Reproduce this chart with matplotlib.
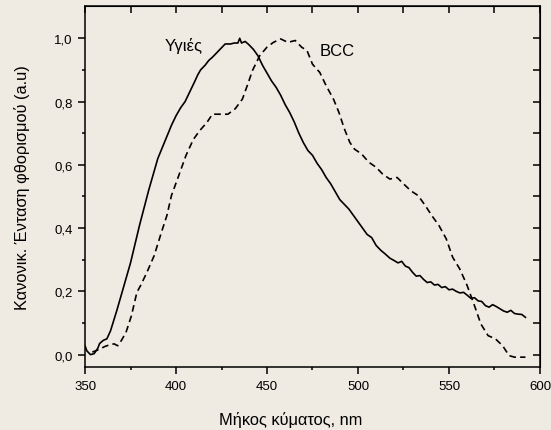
import numpy as np
import matplotlib.pyplot as plt

plt.rcParams['font.family'] = ['Liberation Sans', 'DejaVu Sans']

# healthy tissue (solid)
healthy_nm = [350, 351, 353, 355, 357, 358, 360, 362, 364, 367.5,
              370, 372.5, 375, 377.5, 380, 382.5, 385, 387.5, 390, 392.5,
              395, 397.5, 400, 402.5, 405, 407.5, 410, 412, 413.5, 416,
              418, 420, 422.5, 425, 427, 430, 432, 434, 435, 436,
              438, 440, 442.5, 445, 447.5, 450, 452.5, 455, 457.5, 460,
              462.5, 465, 467.5, 470, 472.5, 475, 477.5, 480, 482.5, 485,
              487.5, 490, 492.5, 495, 497.5, 500, 502.5, 505, 507.5, 510,
              512.5, 515, 517.5, 520, 522, 524, 526, 528, 530, 532,
              534, 536, 538, 540, 542, 544, 546, 548, 550, 552,
              554, 556, 558, 560, 562, 564, 566, 568, 570, 572,
              574, 576, 578, 580, 582, 584, 586, 588, 590, 592]
healthy = [0.028, 0.012, 0.0, 0.003, 0.02, 0.035, 0.045, 0.05, 0.075, 0.14,
           0.19, 0.24, 0.29, 0.35, 0.41, 0.465, 0.52, 0.57, 0.62, 0.655,
           0.69, 0.725, 0.755, 0.78, 0.80, 0.83, 0.86, 0.885, 0.90, 0.915,
           0.93, 0.94, 0.955, 0.97, 0.982, 0.982, 0.985, 0.985, 1.0, 0.985,
           0.99, 0.98, 0.965, 0.945, 0.915, 0.89, 0.865, 0.845, 0.82, 0.79,
           0.765, 0.735, 0.70, 0.67, 0.645, 0.63, 0.605, 0.585, 0.56, 0.54,
           0.515, 0.49, 0.475, 0.46, 0.44, 0.42, 0.40, 0.38, 0.37, 0.345,
           0.33, 0.318, 0.305, 0.297, 0.29, 0.295, 0.28, 0.275, 0.26, 0.248,
           0.25, 0.238, 0.228, 0.23, 0.22, 0.222, 0.212, 0.215, 0.205, 0.207,
           0.2, 0.195, 0.197, 0.188, 0.178, 0.18, 0.17, 0.168, 0.155, 0.15,
           0.158, 0.152, 0.145, 0.138, 0.134, 0.14, 0.13, 0.128, 0.127, 0.118]

# BCC (dashed)
bcc_nm = [354, 357.5, 361, 364, 366, 368, 370, 372.5, 375.5, 378.5, 380.5,
          384, 388, 392, 395, 397.5, 401.5, 405.5, 409.5, 413, 417,
          420, 425, 428.5, 432.5, 436.5, 439.5, 442, 446, 450, 453.5,
          457.5, 461.5, 465.5, 469, 472, 475, 479, 482.5, 486.5, 489.5,
          492.5, 495.5, 498, 502, 506, 510, 513.5, 517.5, 521.5, 525,
          529, 533, 537, 540.5, 544.5, 548.5, 552, 556, 560, 564,
          567.5, 571.5, 575.5, 579.5, 583, 586, 589, 592]
bcc = [0.008, 0.016, 0.026, 0.032, 0.034, 0.028, 0.045, 0.07, 0.123, 0.197, 0.218,
       0.26, 0.313, 0.387, 0.44, 0.503, 0.566, 0.63, 0.68, 0.708, 0.734,
       0.76, 0.76, 0.76, 0.777, 0.808, 0.856, 0.898, 0.945, 0.972, 0.987,
       0.998, 0.987, 0.993, 0.972, 0.961, 0.918, 0.892, 0.85, 0.808, 0.766,
       0.714, 0.671, 0.65, 0.634, 0.608, 0.592, 0.571, 0.555, 0.56, 0.54,
       0.518, 0.503, 0.471, 0.44, 0.408, 0.366, 0.308, 0.27, 0.218, 0.155,
       0.097, 0.06, 0.05, 0.028, -0.003, -0.008, -0.008, -0.008]

bg = '#efebe2'
fig = plt.figure(figsize=(5.51, 4.31), dpi=100, facecolor=bg)
ax = fig.add_axes([0.1543, 0.1455, 0.8257, 0.8375], facecolor=bg)

ax.plot(healthy_nm, healthy, color='black', lw=1.2)
ax.plot(bcc_nm, bcc, color='black', lw=1.2, dashes=(4, 2.5))

ax.set_xlim(350, 600)
ax.set_ylim(-0.04, 1.101)
ax.set_xticks([350, 400, 450, 500, 550, 600])
ax.set_xticks([375, 425, 475, 525, 575], minor=True)
ax.set_yticks([0.0, 0.2, 0.4, 0.6, 0.8, 1.0])
ax.set_yticks([0.1, 0.3, 0.5, 0.7, 0.9], minor=True)
ax.set_yticklabels(['0,0', '0,2', '0,4', '0,6', '0,8', '1,0'])

for s in ax.spines.values():
    s.set_linewidth(1.1)
ax.tick_params(which='major', direction='out', length=5, width=1.1,
               labelsize=9.5, colors='black', pad=4)
ax.tick_params(which='minor', direction='out', length=2.5, width=1.1)

top = ax.secondary_xaxis('top')
top.set_xticks([350, 375, 400, 425, 450, 475, 500, 525, 550, 575, 600])
top.tick_params(direction='in', length=5, width=1.1, labeltop=False)
right = ax.secondary_yaxis('right')
right.set_yticks([0.0, 0.1, 0.2, 0.3, 0.4, 0.5, 0.6, 0.7, 0.8, 0.9, 1.0])
right.tick_params(direction='in', length=5, width=1.1, labelright=False)

ax.text(394, 0.979, 'Υγιές', fontsize=12, va='center', ha='left')
ax.text(479, 0.961, 'BCC', fontsize=12, va='center', ha='left')

ax.set_xlabel('Μήκος κύματος, nm', fontsize=11.8)
ax.set_ylabel('Κανονικ. Ένταση φθορισμού (a.u)', fontsize=11.8)
ax.xaxis.set_label_coords(0.453, -0.122)
ax.yaxis.set_label_coords(-0.121, 0.5)

fig.savefig('out.png', dpi=100, facecolor=bg)
